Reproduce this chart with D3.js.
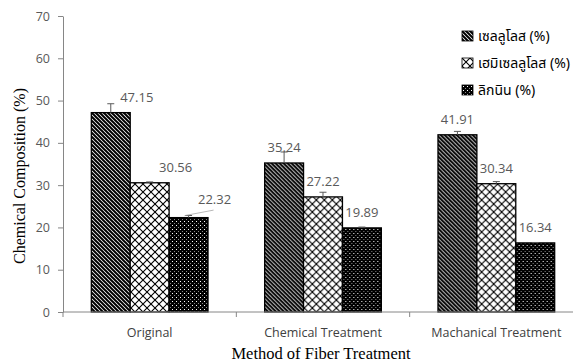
<!DOCTYPE html>
<html>
<head>
<meta charset="utf-8">
<script src="https://cdn.jsdelivr.net/npm/d3@7/dist/d3.min.js"></script>
<style>
  html, body { margin: 0; padding: 0; background: #fff; }
  svg { display: block; }
</style>
</head>
<body>
<svg id="chart" width="573" height="363"></svg>
<script>
// ---- data ----
const categories = ["Original", "Chemical Treatment", "Machanical Treatment"];
const seriesNames = ["เซลลูโลส (%)", "เฮมิเซลลูโลส (%)", "ลิกนิน (%)"];
const cellulose = [47.15, 35.24, 41.91];
const hemicellulose = [30.56, 27.22, 30.34];
const lignin = [22.32, 19.89, 16.34];
const celluloseErr = [2.1, 2.6, 0.8];
const hemicelluloseErr = [0.2, 1.1, 0.5];
const ligninErr = [0.5, 0.2, 0.1];
const yTicks = [0, 10, 20, 30, 40, 50, 60, 70];

const seriesValues = [cellulose, hemicellulose, lignin];
const seriesErrors = [celluloseErr, hemicelluloseErr, ligninErr];

// ---- layout ----
const svg = d3.select("#chart");
const mLeft = 63, mRight = 583, mTop = 16, mBottom = 312;
const gray = "#595959";
const axisColor = "#868686";
const labelDx = [26, 0, 0];          // data-label shift per category
const leader = [[false, false, true], [false, false, false], [false, false, false]];

const y = d3.scaleLinear().domain([0, 70]).range([mBottom, mTop]);
const x0 = d3.scaleBand().domain(categories).range([mLeft, mRight]).paddingInner(0).paddingOuter(0);
const x1 = d3.scaleBand().domain(d3.range(3)).range([0, x0.bandwidth()]).paddingInner(0).paddingOuter(0.728);

// ---- patterns ----
const defs = svg.append("defs");
// wide downward diagonal
const p0 = defs.append("pattern").attr("id", "pat0").attr("patternUnits", "userSpaceOnUse")
  .attr("width", 4).attr("height", 4);
p0.append("rect").attr("width", 4).attr("height", 4).attr("fill", "#fff");
p0.append("path").attr("d", "M-1,-1 L5,5 M-1,3 L1,5 M3,-1 L5,1")
  .attr("stroke", "#000").attr("stroke-width", 2);
// outlined diamond lattice
const p1 = defs.append("pattern").attr("id", "pat1").attr("patternUnits", "userSpaceOnUse")
  .attr("width", 8).attr("height", 8);
p1.append("rect").attr("width", 8).attr("height", 8).attr("fill", "#fff");
p1.append("path").attr("d", "M0,0 L8,8 M8,0 L0,8")
  .attr("stroke", "#000").attr("stroke-width", 1.1);
p1.append("rect").attr("x", 3.5).attr("y", 3.5).attr("width", 1).attr("height", 1).attr("fill", "#000");
// black with white dots
const p2 = defs.append("pattern").attr("id", "pat2").attr("patternUnits", "userSpaceOnUse")
  .attr("width", 4).attr("height", 4);
p2.append("rect").attr("width", 4).attr("height", 4).attr("fill", "#000");
p2.append("rect").attr("x", 1).attr("y", 1).attr("width", 1).attr("height", 1).attr("fill", "#fff");
p2.append("rect").attr("x", 3).attr("y", 3).attr("width", 1).attr("height", 1).attr("fill", "#888");

// ---- y axis ----
const yAxis = svg.append("g").attr("transform", `translate(${mLeft},0)`)
  .call(d3.axisLeft(y).tickValues(yTicks).tickSize(5).tickPadding(8).tickSizeOuter(0));
yAxis.select(".domain").attr("stroke", axisColor);
yAxis.selectAll(".tick line").attr("stroke", axisColor);
yAxis.selectAll(".tick text").attr("fill", gray)
  .style("font-family", "'Open Sans', sans-serif").style("font-size", "12.5px");

// ---- bars ----
const groups = svg.append("g").selectAll("g").data(categories).join("g")
  .attr("transform", d => `translate(${x0(d)},0)`);

seriesValues.forEach((vals, s) => {
  groups.append("rect")
    .attr("x", x1(s))
    .attr("y", (d, i) => y(vals[i]))
    .attr("width", x1.bandwidth())
    .attr("height", (d, i) => y(0) - y(vals[i]))
    .attr("fill", `url(#pat${s})`)
    .attr("stroke", "#000").attr("stroke-width", 1.3);
});

// ---- error bars ----
seriesValues.forEach((vals, s) => {
  const errs = seriesErrors[s];
  groups.each(function(d, i) {
    const g = d3.select(this);
    const cx = x1(s) + x1.bandwidth() / 2;
    const yt = y(vals[i] + errs[i]);
    g.append("line").attr("x1", cx).attr("x2", cx).attr("y1", y(vals[i])).attr("y2", yt)
      .attr("stroke", gray).attr("stroke-width", 1);
    g.append("line").attr("x1", cx - 3.5).attr("x2", cx + 3.5).attr("y1", yt).attr("y2", yt)
      .attr("stroke", gray).attr("stroke-width", 1);
  });
});

// ---- data labels ----
seriesValues.forEach((vals, s) => {
  groups.each(function(d, i) {
    const g = d3.select(this);
    const cx = x1(s) + x1.bandwidth() / 2;
    const lx = cx + labelDx[i];
    const ly = y(vals[i]) - (leader[i][s] ? 13.5 : 11);
    if (leader[i][s]) {
      g.append("line").attr("x1", cx - 4).attr("y1", y(vals[i]) - 2)
        .attr("x2", lx - 1).attr("y2", ly + 6)
        .attr("stroke", "#a6a6a6").attr("stroke-width", 0.8);
    }
    g.append("text").attr("x", lx).attr("y", ly)
      .attr("text-anchor", "middle").attr("fill", gray)
      .style("font-family", "'Open Sans', sans-serif").style("font-size", "13px")
      .text(vals[i].toFixed(2));
  });
});

// ---- x axis ----
svg.append("line").attr("x1", mLeft).attr("x2", mRight).attr("y1", mBottom).attr("y2", mBottom)
  .attr("stroke", axisColor).attr("stroke-width", 1);
const xAxis = svg.append("g").attr("transform", `translate(0,${mBottom})`)
  .call(d3.axisBottom(x0).tickSize(0).tickPadding(16));
xAxis.select(".domain").remove();
xAxis.selectAll(".tick text").attr("fill", "#404040")
  .style("font-family", "'Open Sans', sans-serif").style("font-size", "12.5px");
svg.append("g").selectAll("line").data(categories.concat(["end"])).join("line")
  .attr("x1", (d, i) => i < categories.length ? x0(d) : mRight)
  .attr("x2", (d, i) => i < categories.length ? x0(d) : mRight)
  .attr("y1", mBottom).attr("y2", mBottom + 5)
  .attr("stroke", axisColor);

// ---- axis titles ----
svg.append("text").attr("x", 321).attr("y", 359).attr("text-anchor", "middle")
  .attr("fill", "#000").style("font-family", "'Liberation Serif', serif").style("font-size", "16.5px")
  .text("Method of Fiber Treatment");
svg.append("text").attr("transform", `translate(25,${(mTop + mBottom) / 2 + 12}) rotate(-90)`)
  .attr("text-anchor", "middle")
  .attr("fill", "#000").style("font-family", "'Liberation Serif', serif").style("font-size", "16px")
  .text("Chemical Composition (%)");

// ---- legend ----
const legend = svg.append("g").attr("transform", "translate(462,31)");
const li = legend.selectAll("g").data(seriesNames).join("g")
  .attr("transform", (d, i) => `translate(0,${i * 27})`);
li.append("rect").attr("width", 11).attr("height", 10)
  .attr("fill", (d, i) => `url(#pat${i})`).attr("stroke", "#000").attr("stroke-width", 0.8);
li.append("text").attr("x", 16).attr("y", 10)
  .attr("fill", "#000").style("font-family", "'Noto Sans Thai', 'Tahoma', sans-serif").style("font-size", "14px")
  .text(d => d);
</script>
</body>
</html>
